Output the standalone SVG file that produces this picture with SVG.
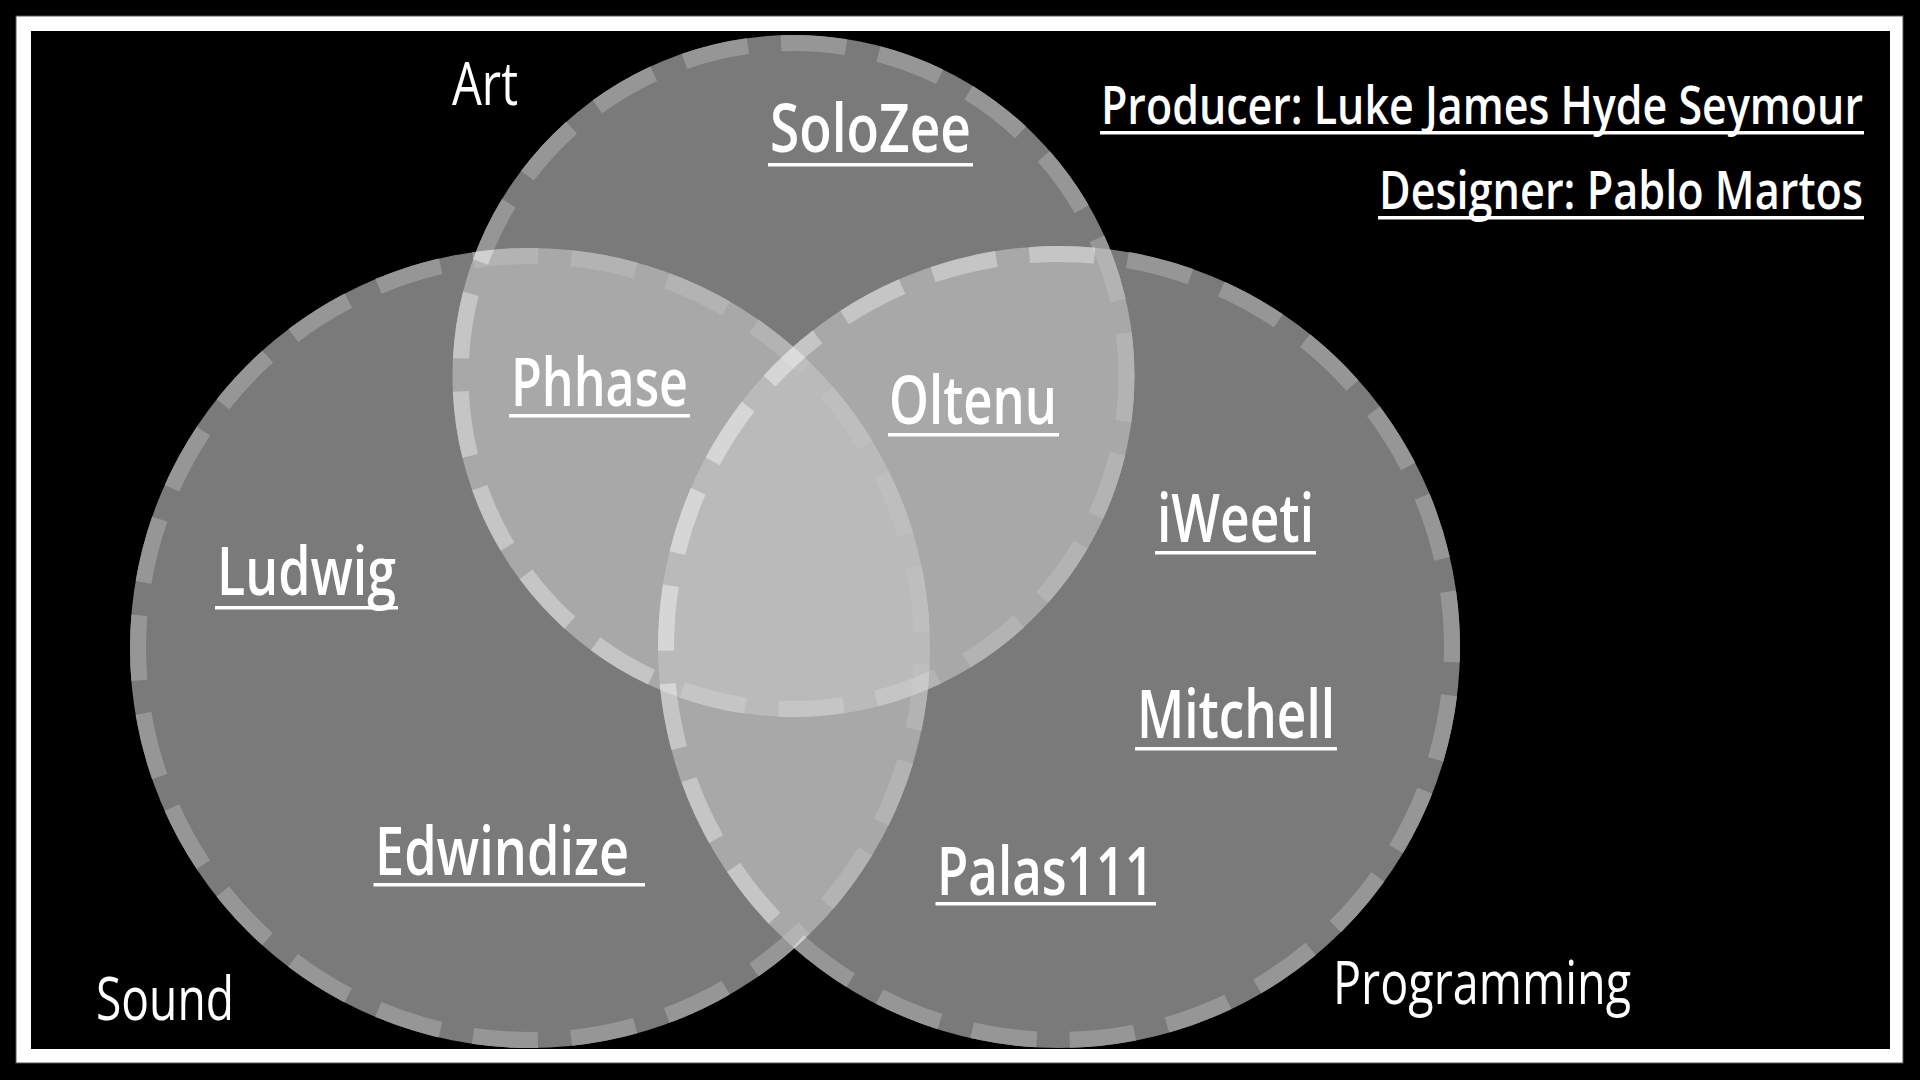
<svg xmlns="http://www.w3.org/2000/svg" width="1920" height="1080" viewBox="0 0 1920 1080">
  <style>
    .set { opacity: 0.615; }
    .fill { fill: #c6c6c6; }
    .ring { fill: none; stroke: #f4f4f4; stroke-width: 16; }
    .name { font-family: "Open Sans", "Liberation Sans", sans-serif; font-weight: 600; font-size: 67px; fill: #ffffff; }
    .label { font-family: "Open Sans", "Liberation Sans", sans-serif; font-weight: 400; font-size: 61px; fill: #ffffff; }
    .credit { font-family: "Open Sans", "Liberation Sans", sans-serif; font-weight: 600; font-size: 53px; fill: #ffffff; }
    .ul { fill: #ffffff; }
  </style>
  <rect x="0" y="0" width="1920" height="1080" fill="#000000"/>
  <rect x="16" y="16" width="1887" height="1047" fill="#ffffff" stroke="#555555" stroke-width="1"/>
  <rect x="31" y="31" width="1859" height="1018" fill="#000000"/>

  <g id="set-sound" class="set">
    <circle class="fill" cx="530" cy="648" r="400"/>
    <circle class="ring" cx="530" cy="648" r="392" stroke-dasharray="65.3 33.2" stroke-dashoffset="82"/>
  </g>
  <g id="set-art" class="set">
    <circle class="fill" cx="793.5" cy="376" r="341"/>
    <circle class="ring" cx="793.5" cy="376" r="333" stroke-dasharray="65.3 33.2" stroke-dashoffset="20"/>
  </g>
  <g id="set-programming" class="set">
    <circle class="fill" cx="1059" cy="647" r="401"/>
    <circle class="ring" cx="1059" cy="647" r="393" stroke-dasharray="65.3 33.2" stroke-dashoffset="50"/>
  </g>

  <g id="label-art"><text class="label" x="452" y="105" textLength="66" lengthAdjust="spacingAndGlyphs">Art</text></g>
  <g id="label-sound"><text class="label" x="96" y="1020" textLength="138" lengthAdjust="spacingAndGlyphs">Sound</text></g>
  <g id="label-programming"><text class="label" x="1333" y="1004" textLength="298" lengthAdjust="spacingAndGlyphs">Programming</text></g>

  <g id="credit-producer">
    <text class="credit" transform="scale(0.78 1)" x="1411.5" y="124" textLength="976.9" lengthAdjust="spacingAndGlyphs">Producer: Luke James Hyde Seymour</text>
    <rect class="ul" x="1100" y="131" width="764" height="3.5"/>
  </g>
  <g id="credit-designer">
    <text class="credit" transform="scale(0.78 1)" x="1767.9" y="209" textLength="620.5" lengthAdjust="spacingAndGlyphs">Designer: Pablo Martos</text>
    <rect class="ul" x="1378" y="216" width="486" height="3.5"/>
  </g>

  <g id="name-solozee">
    <text class="name" x="770" y="152" textLength="201" lengthAdjust="spacingAndGlyphs">SoloZee</text>
    <rect class="ul" x="768" y="163" width="205" height="3.5"/>
  </g>
  <g id="name-phhase">
    <text class="name" x="511" y="406" textLength="177" lengthAdjust="spacingAndGlyphs">Phhase</text>
    <rect class="ul" x="509" y="414" width="181" height="3.5"/>
  </g>
  <g id="name-oltenu">
    <text class="name" x="889" y="424" textLength="168" lengthAdjust="spacingAndGlyphs">Oltenu</text>
    <rect class="ul" x="888" y="433" width="171" height="3.5"/>
  </g>
  <g id="name-ludwig">
    <text class="name" x="217" y="595" textLength="179" lengthAdjust="spacingAndGlyphs">Ludwig</text>
    <rect class="ul" x="215" y="606" width="183" height="3.5"/>
  </g>
  <g id="name-iweeti">
    <text class="name" x="1157" y="542" textLength="157" lengthAdjust="spacingAndGlyphs">iWeeti</text>
    <rect class="ul" x="1155" y="551" width="161" height="3.5"/>
  </g>
  <g id="name-mitchell">
    <text class="name" x="1137" y="738" textLength="198" lengthAdjust="spacingAndGlyphs">Mitchell</text>
    <rect class="ul" x="1135" y="747" width="202" height="3.5"/>
  </g>
  <g id="name-edwindize">
    <text class="name" x="375" y="875" textLength="254" lengthAdjust="spacingAndGlyphs">Edwindize</text>
    <rect class="ul" x="373.5" y="883" width="271.5" height="3.5"/>
  </g>
  <g id="name-palas111">
    <text class="name" x="937" y="895" textLength="217" lengthAdjust="spacingAndGlyphs">Palas111</text>
    <rect class="ul" x="935.5" y="902" width="220.5" height="3.5"/>
  </g>
</svg>
